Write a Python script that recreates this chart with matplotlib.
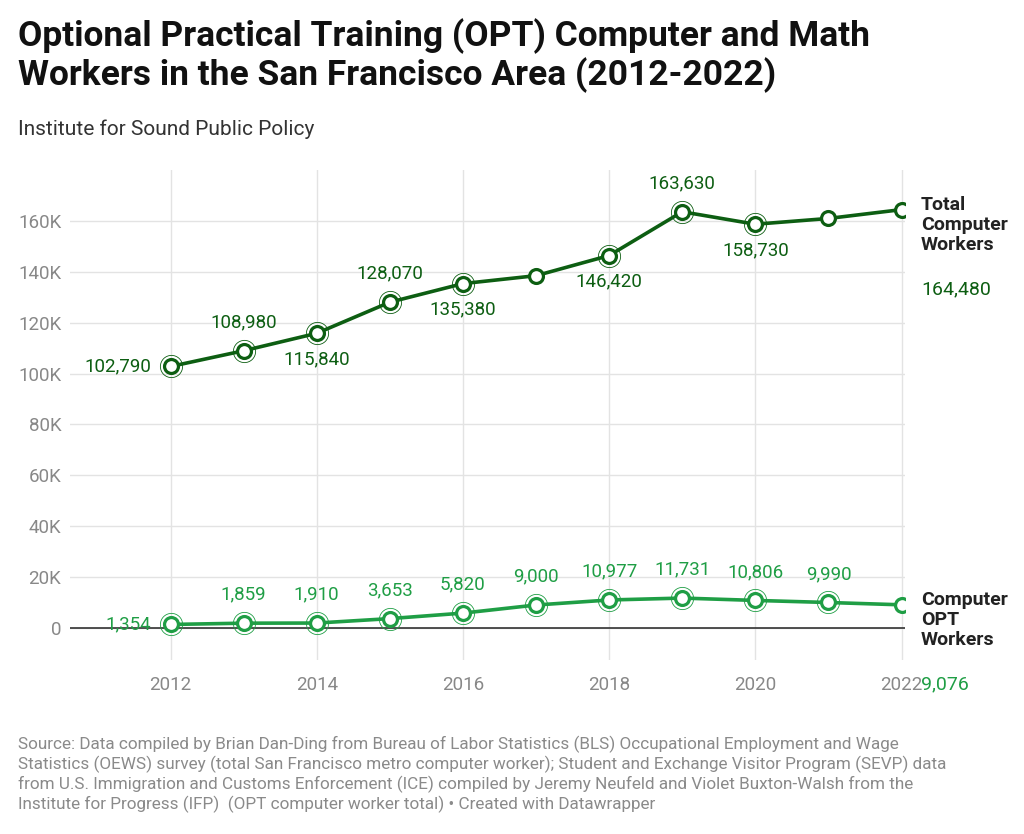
import matplotlib.pyplot as plt
import numpy as np

years = [2012, 2013, 2014, 2015, 2016, 2017, 2018, 2019, 2020, 2021, 2022]
total_workers = [102790, 108980, 115840, 128070, 135380, 138500, 146420, 163630, 158730, 161000, 164480]
opt_workers = [1354, 1859, 1910, 3653, 5820, 9000, 10977, 11731, 10806, 9990, 9076]
total_label_pos = ['left', 'above', 'below', 'above', 'below', None, 'below', 'above', 'below', None, None]
opt_label_pos = ['left', 'above', 'above', 'above', 'above', 'above', 'above', 'above', 'above', 'above', None]
yticks = [0, 20000, 40000, 60000, 80000, 100000, 120000, 140000, 160000]
ytick_labels = ['0', '20K', '40K', '60K', '80K', '100K', '120K', '140K', '160K']

DARK = '#0d5e12'
LIGHT = '#1f9e45'

plt.rcParams['font.family'] = ['Roboto', 'DejaVu Sans']


def draw_series(ax, ys, positions, color):
    ax.plot(years, ys, color=color, lw=2.6, zorder=3)
    ax.plot(years, ys, 'o', ms=10, mfc='white', mec=color, mew=2.3, zorder=4)
    for x, y, pos in zip(years, ys, positions):
        if pos is None:
            continue
        # halo ring round labelled points
        ax.plot(x, y, 'o', ms=16, mfc='none', mec=color, mew=0.6, zorder=4)
        txt = f'{y:,}'
        if pos == 'left':
            ax.annotate(txt, (x, y), xytext=(-14, 0), textcoords='offset points',
                        ha='right', va='center', color=color, fontsize=13.5)
        elif pos == 'above':
            ax.annotate(txt, (x, y), xytext=(0, 14), textcoords='offset points',
                        ha='center', va='bottom', color=color, fontsize=13.5)
        else:
            ax.annotate(txt, (x, y), xytext=(0, -12), textcoords='offset points',
                        ha='center', va='top', color=color, fontsize=13.5)


def main():
    fig = plt.figure(figsize=(10.24, 8.34), dpi=100)
    ax = fig.add_axes([0.068, 0.209, 0.816, 0.587])

    draw_series(ax, total_workers, total_label_pos, DARK)
    draw_series(ax, opt_workers, opt_label_pos, LIGHT)

    ax.set_xlim(2010.62, 2022.05)
    ax.set_ylim(-12500, 180000)
    ax.set_yticks(yticks)
    ax.set_yticklabels(ytick_labels)
    ax.set_xticks([2012, 2014, 2016, 2018, 2020, 2022])
    ax.grid(color='#e3e3e3', lw=1)
    ax.axhline(0, color='#222222', lw=1.1, zorder=2)
    ax.set_axisbelow(True)
    for s in ax.spines.values():
        s.set_visible(False)
    ax.tick_params(length=0, labelsize=13.5, colors='#888888', pad=12)
    ax.tick_params(axis='y', pad=6)

    # end labels
    ax.annotate('Total\nComputer\nWorkers', (2022, 164480), xytext=(14, 10), textcoords='offset points',
                ha='left', va='top', color='#222222', fontsize=14, fontweight='bold', linespacing=1.15,
                annotation_clip=False)
    ax.annotate('164,480', (2022, 164480), xytext=(14, -51), textcoords='offset points',
                ha='left', va='top', color=DARK, fontsize=14, annotation_clip=False)
    ax.annotate('Computer\nOPT\nWorkers', (2022, 9076), xytext=(14, 10), textcoords='offset points',
                ha='left', va='top', color='#222222', fontsize=14, fontweight='bold', linespacing=1.15,
                annotation_clip=False)
    ax.annotate('9,076', (2022, 9076), xytext=(14, -51), textcoords='offset points',
                ha='left', va='top', color=LIGHT, fontsize=14, annotation_clip=False)

    fig.text(0.018, 0.978, 'Optional Practical Training (OPT) Computer and Math\nWorkers in the San Francisco Area (2012-2022)',
             ha='left', va='top', fontsize=25.5, fontweight='bold', color='#111111', linespacing=1.12)
    fig.text(0.018, 0.845, 'Institute for Sound Public Policy', ha='left', va='center', fontsize=15, color='#333333')
    fig.text(0.018, 0.118,
             'Source: Data compiled by Brian Dan-Ding from Bureau of Labor Statistics (BLS) Occupational Employment and Wage\n'
             'Statistics (OEWS) survey (total San Francisco metro computer worker); Student and Exchange Visitor Program (SEVP) data\n'
             'from U.S. Immigration and Customs Enforcement (ICE) compiled by Jeremy Neufeld and Violet Buxton-Walsh from the\n'
             'Institute for Progress (IFP)  (OPT computer worker total) \u2022 Created with Datawrapper',
             ha='left', va='top', fontsize=12.3, color='#8a8a8a', linespacing=1.2)

    fig.savefig('out.png', dpi=100, facecolor='white')


if __name__ == '__main__':
    main()
